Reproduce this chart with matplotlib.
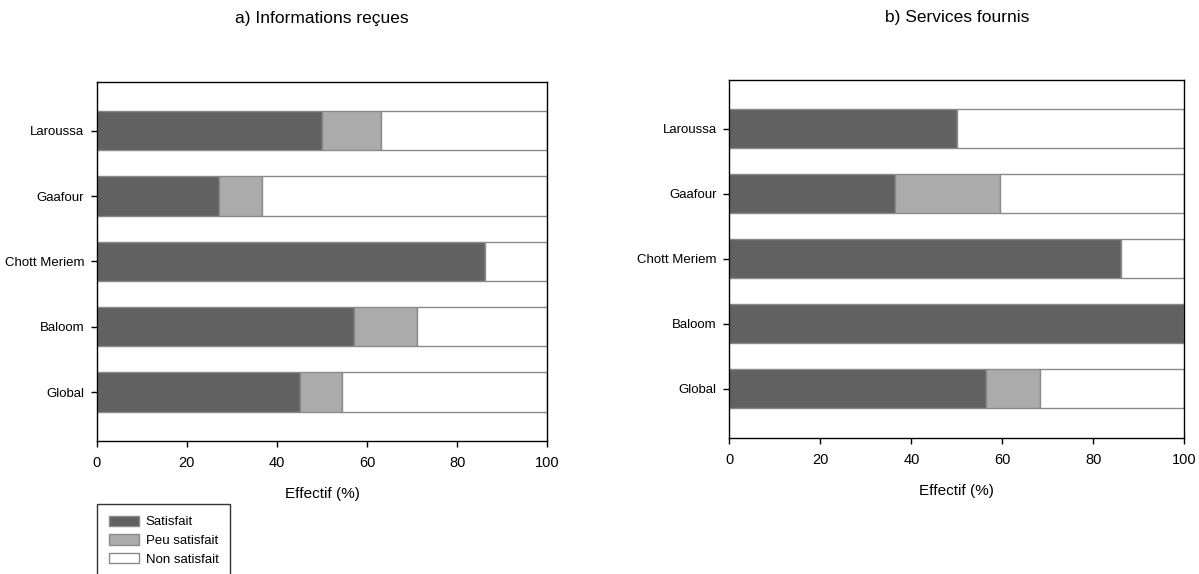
import numpy as np
import matplotlib.pyplot as plt
from matplotlib.patches import Patch

plt.rcParams['font.family'] = ['Liberation Sans', 'DejaVu Sans']

# Data (percent of respondents)
sites = ['Laroussa', 'Gaafour', 'Chott Meriem', 'Baloom', 'Global']
levels = ['Satisfait', 'Peu satisfait', 'Non satisfait']

info_satisfait = [50.0, 27.2, 86.1, 57.1, 45.2]
info_peu = [13.1, 9.5, 0.0, 13.9, 9.3]

serv_satisfait = [50.1, 36.4, 86.1, 100.0, 56.4]
serv_peu = [0.0, 23.1, 0.0, 0.0, 11.9]

titles = ['a) Informations reçues', 'b) Services fournis']
colors = ['#616161', '#ababab', '#ffffff']
edge = '#8a8a8a'

fig = plt.figure(figsize=(11.99, 5.74), dpi=100)
ax1 = fig.add_axes([0.0807, 0.2317, 0.3758, 0.626])
ax2 = fig.add_axes([0.6083, 0.2375, 0.3795, 0.6232])

y = np.arange(len(sites))[::-1]

for ax, sat, peu, title in [(ax1, info_satisfait, info_peu, titles[0]),
                            (ax2, serv_satisfait, serv_peu, titles[1])]:
    sat = np.array(sat)
    peu = np.array(peu)
    non = 100 - sat - peu
    ax.barh(y, sat, height=0.6, color=colors[0], edgecolor=edge, linewidth=1)
    ax.barh(y, peu, left=sat, height=0.6, color=colors[1], edgecolor=edge, linewidth=1)
    ax.barh(y, non, left=sat + peu, height=0.6, color=colors[2], edgecolor=edge, linewidth=1)
    ax.set_xlim(0, 100)
    ax.set_ylim(-0.75, 4.75)
    ax.set_yticks(y)
    ax.set_yticklabels(sites)
    ax.set_xticks([0, 20, 40, 60, 80, 100])
    ax.tick_params(direction='out', length=4, width=1, pad=5)
    ax.tick_params(axis='y', labelsize=9.5)
    ax.tick_params(axis='x', labelsize=10.5, pad=7)
    for s in ax.spines.values():
        s.set_color('black')
        s.set_linewidth(1)
    ax.set_xlabel('Effectif (%)', fontsize=11, labelpad=12)
    ax.set_title(title, fontsize=12.5, pad=42)

handles = [Patch(facecolor=c, edgecolor=edge, label=l) for c, l in zip(colors, levels)]
leg = fig.legend(handles=handles, loc='upper left', bbox_to_anchor=(0.0807, 0.122),
                 fontsize=9.5, frameon=True, fancybox=False, edgecolor='black',
                 handlelength=2.3, handleheight=0.8, borderpad=0.9, labelspacing=0.45,
                 handletextpad=0.5, borderaxespad=0.0)
leg.get_frame().set_linewidth(1)

fig.savefig('out.png', dpi=100, facecolor='white')
